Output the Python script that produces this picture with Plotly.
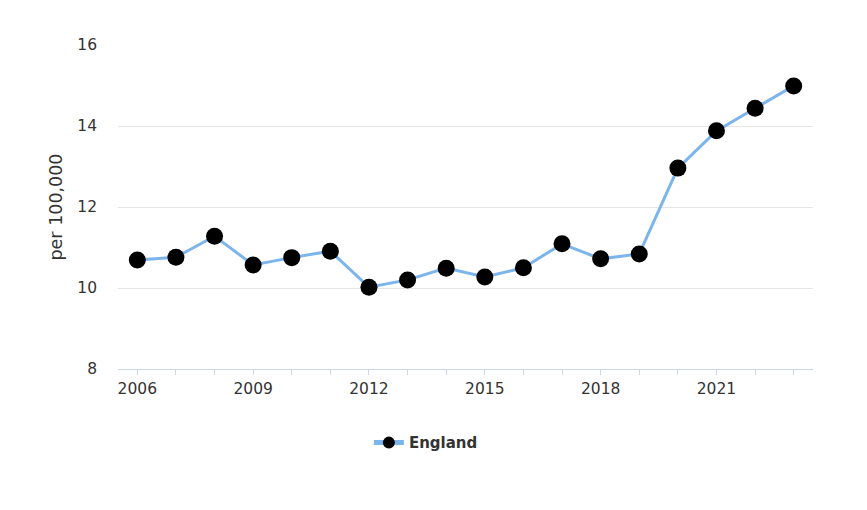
import plotly.graph_objects as go

years = list(range(2006, 2024))
england = [10.69, 10.76, 11.28, 10.57, 10.75, 10.91, 10.02, 10.2, 10.49, 10.27,
           10.5, 11.09, 10.72, 10.84, 12.96, 13.88, 14.44, 14.99]
x_ticks = [2006, 2009, 2012, 2015, 2018, 2021]
y_ticks = [8, 10, 12, 14, 16]

FONT = "DejaVu Sans, Verdana, sans-serif"

fig = go.Figure()
fig.add_trace(go.Scatter(
    x=years, y=england, name="England", mode="lines+markers",
    line=dict(color="#7cb5ec", width=3),
    marker=dict(color="#000000", size=17, line=dict(width=0)),
))

fig.update_layout(
    width=859, height=502,
    margin=dict(l=110, r=54, t=37, b=141),
    paper_bgcolor="white", plot_bgcolor="white",
    font=dict(family=FONT, size=15, color="#333333"),
    showlegend=True,
    legend=dict(orientation="h", x=0.443, y=-0.228, xanchor="center", yanchor="middle",
                font=dict(family=FONT, size=15, color="#333333", weight="bold"),
                itemsizing="constant"),
    xaxis=dict(range=[2005.5, 2023.5], tickvals=x_ticks, ticktext=[str(v) for v in x_ticks],
               showgrid=False, zeroline=False, showline=True, linecolor="#ccd6eb", linewidth=1,
               ticks="outside", ticklen=5, tickcolor="#ccd6eb",
               minor=dict(dtick=1, tick0=2006, ticks="outside", ticklen=5, tickcolor="#ccd6eb"),
               tickfont=dict(size=15.5, color="#333333")),
    yaxis=dict(range=[8, 16], tickvals=y_ticks, showgrid=True, gridcolor="#e6e6e6", gridwidth=1,
               zeroline=False, showline=False, ticklabelstandoff=20,
               tickfont=dict(size=15.5, color="#333333")),
)
fig.update_yaxes(title=dict(text="per 100,000", font=dict(size=17.5, color="#333333"), standoff=10))

fig.write_html("out.html")
